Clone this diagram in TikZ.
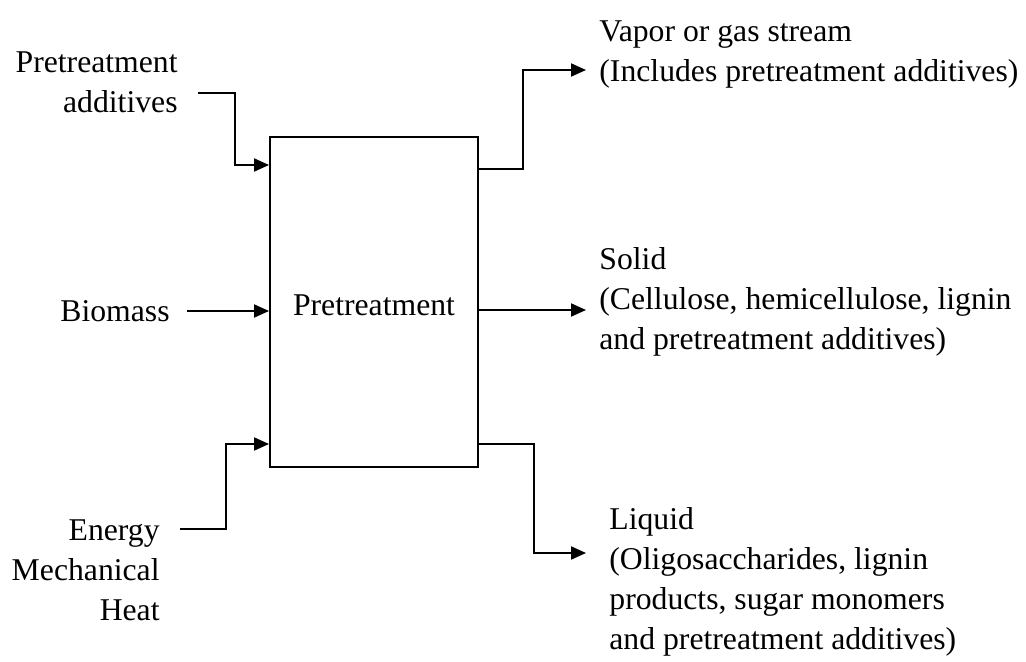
\documentclass[tikz,border=0pt]{standalone}
\usepackage{fontspec}
\setmainfont{Liberation Serif}
\usetikzlibrary{arrows.meta}

\begin{document}
\begin{tikzpicture}[x=0.5pt,y=-0.5pt]
        \tikzstyle{unit} = [draw,line width=1pt,inner sep=0pt,minimum width=104pt,minimum height=165pt,text height=13.6pt,text depth=0pt,font=\fontsize{15.85}{20}\selectfont]
        \tikzstyle{txt} = [inner sep=0pt,font=\fontsize{15.85}{20}\selectfont]
        \tikzstyle{stream} = [line width=1pt,-{Triangle[length=7.5pt,width=6.5pt]}]

        \useasboundingbox (0,0) rectangle (1026,662);

        \node[unit] (P) at (374,302){Pretreatment};

        \node[txt,anchor=east,align=right] (add) at (178,82){Pretreatment\\additives};
        \node[txt,anchor=east] (bio) at (170,311){Biomass};
        \node[txt,anchor=east,align=right] (en) at (160,570){Energy\\Mechanical\\Heat};

        \node[txt,anchor=west,align=left] (vap) at (599,55){Vapor or gas stream\\(Includes pretreatment additives)};
        \node[txt,anchor=west,align=left] (sol) at (599,302){Solid\\(Cellulose, hemicellulose, lignin\\and pretreatment additives)};
        \node[txt,anchor=west,align=left] (liq) at (609,582){Liquid\\(Oligosaccharides, lignin\\products, sugar monomers\\and pretreatment additives)};

        % bends
        \coordinate (a1) at (198,93);
        \coordinate (a2) at (235,165);
        \coordinate (e1) at (180,529);
        \coordinate (e2) at (226,444);
        \coordinate (v1) at (523,169);
        \coordinate (vt) at (586,70);
        \coordinate (st) at (586,310);
        \coordinate (l1) at (534,444);
        \coordinate (lt) at (586,553);

        \draw[stream] (a1) -| (a2) -- (a2 -| P.west);
        \draw[stream] ([xshift=8.5pt]bio.east) -- (bio -| P.west);
        \draw[stream] (e1) -| (e2) -- (e2 -| P.west);
        \draw[stream] (P.east |- v1) -- (v1) |- (vt);
        \draw[stream] (st -| P.east) -- (st);
        \draw[stream] (P.east |- l1) -- (l1) |- (lt);

    \end{tikzpicture}
\end{document}
